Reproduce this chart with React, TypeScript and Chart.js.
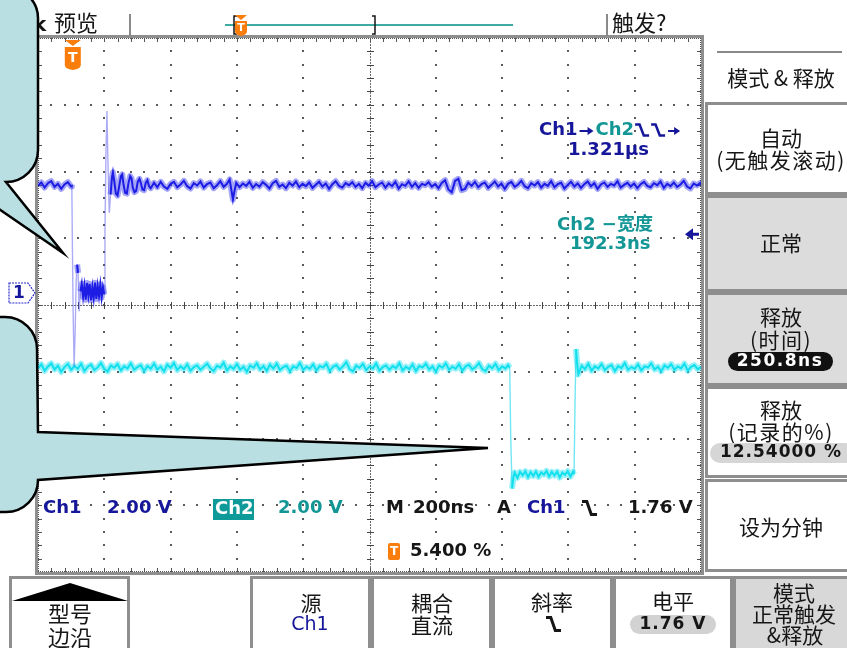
import { useEffect, useRef } from 'react';
import { Chart, registerables } from 'chart.js';

Chart.register(...registerables);

// Time base: 200 ns/div over 10 divisions; 8 vertical divisions, both channels at 2.00 V/div.
const TIME_PER_DIV_NS = 200;
const H_DIVS = 10;
const V_DIVS = 8;
const CH1_VOLTS_PER_DIV = 2;
const CH2_VOLTS_PER_DIV = 2;
// Ground reference of each channel, in divisions above the screen centre.
const CH1_GROUND_DIV = 0.18;
const CH2_GROUND_DIV = -2.56;
const TRIGGER_LEVEL_V = 1.76;
const TRIGGER_TIME_NS = 105;

// Ch1 acquisition: [time ns, volts]
const ch1Trace: [number, number][] = [
  [0, 3.22], [10, 3.31], [20, 3.16], [30, 3.29], [40, 3.35], [50, 3.18], [60, 3.27], [70, 3.12], [80, 3.25], [90, 3.32], [100, 3.19],
  [102, 3.24], [104, 1.2], [106, -0.6], [109, -2.2], [112, -1.2], [115, 0.3], [118, 0.85], [121, 0.6], [124, -0.55],
  [128, 0.05], [132, 0.28], [136, -0.12], [140, 0.22], [144, -0.2], [148, 0.3], [152, -0.08], [156, 0.27], [160, -0.22],
  [164, 0.18], [168, -0.16], [172, 0.31], [176, -0.18], [180, 0.22], [184, -0.1], [188, 0.26], [192, -0.14], [196, 0.18], [200, -0.04],
  [202, 1.8], [205, 4.2], [208, 5.45], [211, 3.9], [215, 2.4], [219, 2.95], [223, 3.45], [226, 3.62], [230, 3.35], [235, 2.98],
  [240, 2.92], [245, 3.2], [250, 3.5], [254, 3.55], [258, 3.25], [263, 3.0], [268, 2.98], [273, 3.3], [278, 3.5], [282, 3.44],
  [286, 3.15], [291, 3.02], [296, 3.06], [301, 3.34], [306, 3.42], [310, 3.3], [315, 3.1], [320, 3.08], [325, 3.3], [330, 3.38],
  [335, 3.2], [340, 3.14], [350, 3.3], [360, 3.17], [370, 3.33], [380, 3.19], [390, 3.12], [400, 3.27], [410, 3.33], [420, 3.17],
  [430, 3.25], [440, 3.36], [450, 3.2], [460, 3.13], [470, 3.29], [480, 3.22], [490, 3.34], [500, 3.16], [510, 3.26], [520, 3.31],
  [530, 3.14], [540, 3.23], [550, 3.35], [560, 3.18], [570, 3.27], [578, 3.4], [584, 3.05], [588, 2.8], [592, 3.02], [598, 3.3],
  [608, 3.17], [618, 3.28], [628, 3.21], [638, 3.33], [648, 3.15], [658, 3.26], [668, 3.19], [678, 3.32], [688, 3.24], [698, 3.13],
  [708, 3.29], [718, 3.36], [728, 3.18], [738, 3.25], [748, 3.14], [758, 3.3], [768, 3.22], [778, 3.34], [788, 3.17], [798, 3.27],
  [808, 3.2], [818, 3.31], [828, 3.15], [838, 3.24], [848, 3.33], [858, 3.19], [868, 3.28], [878, 3.12], [888, 3.26], [898, 3.35],
  [908, 3.21], [918, 3.16], [928, 3.29], [938, 3.23], [948, 3.32], [958, 3.18], [968, 3.27], [978, 3.14], [988, 3.3], [998, 3.22],
  [1008, 3.35], [1018, 3.17], [1028, 3.25], [1038, 3.31], [1048, 3.16], [1058, 3.28], [1068, 3.2], [1078, 3.33], [1088, 3.13], [1098, 3.26],
  [1108, 3.21], [1118, 3.34], [1128, 3.18], [1138, 3.29], [1148, 3.15], [1158, 3.27], [1168, 3.23], [1178, 3.32], [1188, 3.19], [1198, 3.26],
  [1208, 3.14], [1218, 3.3], [1228, 3.38], [1238, 3.1], [1248, 3.02], [1258, 3.36], [1268, 3.42], [1278, 3.08], [1288, 3.12], [1298, 3.3],
  [1308, 3.21], [1318, 3.33], [1328, 3.17], [1338, 3.26], [1348, 3.31], [1358, 3.15], [1368, 3.24], [1378, 3.34], [1388, 3.19], [1398, 3.28],
  [1408, 3.12], [1418, 3.27], [1428, 3.33], [1438, 3.18], [1448, 3.25], [1458, 3.36], [1468, 3.2], [1478, 3.14], [1488, 3.29], [1498, 3.22],
  [1508, 3.32], [1518, 3.16], [1528, 3.27], [1538, 3.21], [1548, 3.35], [1558, 3.17], [1568, 3.26], [1578, 3.3], [1588, 3.13], [1598, 3.24],
  [1608, 3.33], [1618, 3.19], [1628, 3.28], [1638, 3.15], [1648, 3.26], [1658, 3.34], [1668, 3.2], [1678, 3.29], [1688, 3.12], [1698, 3.25],
  [1708, 3.31], [1718, 3.18], [1728, 3.27], [1738, 3.22], [1748, 3.35], [1758, 3.16], [1768, 3.24], [1778, 3.3], [1788, 3.19], [1798, 3.28],
  [1808, 3.14], [1818, 3.26], [1828, 3.33], [1838, 3.21], [1848, 3.17], [1858, 3.29], [1868, 3.23], [1878, 3.34], [1888, 3.15], [1898, 3.27],
  [1908, 3.2], [1918, 3.31], [1928, 3.18], [1938, 3.25], [1948, 3.36], [1958, 3.19], [1968, 3.13], [1978, 3.28], [1988, 3.22], [1998, 3.3], [2000, 3.24],
];

// Ch2 acquisition: [time ns, volts]
const ch2Trace: [number, number][] = [
  [0, 3.22], [10, 3.34], [20, 3.15], [30, 3.28], [40, 3.37], [50, 3.19], [60, 3.3], [70, 3.12], [80, 3.26], [90, 3.35],
  [100, 3.18], [110, 3.29], [120, 3.21], [130, 3.36], [140, 3.14], [150, 3.27], [160, 3.33], [170, 3.17], [180, 3.25], [190, 3.38],
  [200, 3.2], [210, 3.13], [220, 3.31], [230, 3.24], [240, 3.35], [250, 3.16], [260, 3.28], [270, 3.22], [280, 3.37], [290, 3.18],
  [300, 3.26], [310, 3.32], [320, 3.14], [330, 3.29], [340, 3.21], [350, 3.36], [360, 3.19], [370, 3.27], [380, 3.13], [390, 3.33],
  [400, 3.24], [410, 3.38], [420, 3.17], [430, 3.28], [440, 3.2], [450, 3.34], [460, 3.15], [470, 3.26], [480, 3.31], [490, 3.18],
  [500, 3.27], [510, 3.36], [520, 3.22], [530, 3.14], [540, 3.3], [550, 3.25], [560, 3.39], [570, 3.16], [580, 3.28], [590, 3.21],
  [600, 3.35], [610, 3.18], [620, 3.27], [630, 3.12], [640, 3.31], [650, 3.24], [660, 3.37], [670, 3.19], [680, 3.29], [690, 3.15],
  [700, 3.33], [710, 3.22], [720, 3.36], [730, 3.17], [740, 3.26], [750, 3.3], [760, 3.13], [770, 3.28], [780, 3.23], [790, 3.38],
  [800, 3.18], [810, 3.27], [820, 3.21], [830, 3.34], [840, 3.16], [850, 3.29], [860, 3.25], [870, 3.36], [880, 3.14], [890, 3.27],
  [900, 3.32], [910, 3.19], [920, 3.28], [930, 3.41], [940, 3.2], [950, 3.13], [960, 3.3], [970, 3.24], [980, 3.35], [990, 3.17],
  [1000, 3.28], [1010, 3.22], [1020, 3.37], [1030, 3.15], [1040, 3.26], [1050, 3.31], [1060, 3.18], [1070, 3.29], [1080, 3.23], [1090, 3.38],
  [1100, 3.16], [1110, 3.27], [1120, 3.2], [1130, 3.34], [1140, 3.14], [1150, 3.29], [1160, 3.25], [1170, 3.36], [1180, 3.19], [1190, 3.28],
  [1200, 3.12], [1210, 3.31], [1220, 3.24], [1230, 3.37], [1240, 3.18], [1250, 3.27], [1260, 3.21], [1270, 3.35], [1280, 3.15], [1290, 3.28],
  [1300, 3.33], [1310, 3.19], [1320, 3.26], [1330, 3.38], [1340, 3.2], [1350, 3.14], [1360, 3.3], [1370, 3.23], [1380, 3.36], [1390, 3.17],
  [1400, 3.28], [1410, 3.22], [1418, 3.32], [1423, 3.24],
  [1426, 1.2], [1430, -0.38], [1434, -0.05], [1438, 0.1], [1446, -0.06], [1454, 0.12], [1462, 0.02], [1470, 0.14], [1478, -0.04],
  [1486, 0.11], [1494, 0.0], [1502, 0.13], [1510, -0.03], [1518, 0.1], [1526, 0.04], [1534, 0.15], [1542, -0.02], [1550, 0.12],
  [1558, 0.01], [1566, 0.13], [1574, -0.05], [1582, 0.1], [1590, 0.03], [1598, 0.14], [1606, -0.02], [1614, 0.12], [1617, 0.05],
  [1620, 2.2], [1623, 3.8], [1626, 3.4], [1630, 3.05], [1640, 3.3], [1650, 3.2], [1660, 3.36], [1670, 3.15], [1680, 3.28],
  [1690, 3.22], [1700, 3.35], [1710, 3.17], [1720, 3.27], [1730, 3.32], [1740, 3.14], [1750, 3.29], [1760, 3.23], [1770, 3.38],
  [1780, 3.18], [1790, 3.26], [1800, 3.21], [1810, 3.34], [1820, 3.16], [1830, 3.28], [1840, 3.25], [1850, 3.37], [1860, 3.19],
  [1870, 3.27], [1880, 3.13], [1890, 3.31], [1900, 3.24], [1910, 3.35], [1920, 3.18], [1930, 3.28], [1940, 3.22], [1950, 3.36],
  [1960, 3.15], [1970, 3.27], [1980, 3.32], [1990, 3.2], [2000, 3.26],
];

// Readouts and menu labels
const ch1Scale = '2.00 V';
const ch2Scale = '2.00 V';
const timeBase = '200ns';
const triggerReadout = '1.76 V';
const triggerPosition = '5.400 %';
const delayReadout = '1.321μs';
const widthLabel = 'Ch2 −宽度';
const widthReadout = '192.3ns';
const topBarPreview = '预览';
const topBarStatus = '触发?';
const sideMenuTitle = '模式 & 释放';
const sideMenuLines = [['自动', '(无触发滚动)'], ['正常'], ['释放', '(时间)'], ['释放', '(记录的%)'], ['设为分钟']];
const holdoffTime = '250.8ns';
const holdoffPercent = '12.54000 %';
const bottomMenuLines = [['型号', '边沿'], ['源', 'Ch1'], ['耦合', '直流'], ['斜率', ''], ['电平', '1.76 V'], ['模式', '正常触发', '&释放']];

const NAVY = '#16169a';
const TEAL = '#129696';
const INK = '#161616';
const ORANGE = '#fb7d0c';
const CH1_COLOR = '#1c1ce4';
const CH1_HAZE = 'rgba(40,40,235,0.42)';
const CH1_EDGE = 'rgba(70,70,235,0.45)';
const CH2_COLOR = '#10e0ee';
const CH2_HAZE = 'rgba(20,225,240,0.45)';
const CH2_EDGE = 'rgba(20,215,235,0.6)';
const BUBBLE = '#b9dfe2';
const FRAME = '#8e8e8e';
const READ = 'bold 18px "DejaVu Sans", "Noto Sans CJK SC", sans-serif';
const CJK = '21px "Noto Sans CJK SC", sans-serif';

type Ctx = CanvasRenderingContext2D;

function text(ctx: Ctx, s: string, x: number, y: number, font: string, color: string, align: CanvasTextAlign = 'left', spacing = 0) {
  ctx.font = font;
  ctx.fillStyle = color;
  ctx.textAlign = align;
  ctx.textBaseline = 'middle';
  (ctx as any).letterSpacing = spacing + 'px';
  ctx.fillText(s, x, y);
  const w = ctx.measureText(s).width;
  (ctx as any).letterSpacing = '0px';
  return w;
}

function fallingEdge(ctx: Ctx, x: number, y: number, w: number, h: number, color: string, lw = 2.5) {
  ctx.beginPath();
  ctx.moveTo(x, y - h / 2);
  ctx.lineTo(x + w * 0.32, y - h / 2);
  ctx.lineTo(x + w * 0.62, y + h / 2);
  ctx.lineTo(x + w, y + h / 2);
  ctx.strokeStyle = color;
  ctx.lineWidth = lw;
  ctx.lineJoin = 'miter';
  ctx.stroke();
}

function arrowRight(ctx: Ctx, x: number, y: number, len: number, color: string) {
  ctx.strokeStyle = color;
  ctx.fillStyle = color;
  ctx.lineWidth = 2;
  ctx.beginPath();
  ctx.moveTo(x, y);
  ctx.lineTo(x + len - 4, y);
  ctx.stroke();
  ctx.beginPath();
  ctx.moveTo(x + len, y);
  ctx.lineTo(x + len - 6, y - 4);
  ctx.lineTo(x + len - 6, y + 4);
  ctx.closePath();
  ctx.fill();
}

function pill(ctx: Ctx, x: number, y: number, w: number, h: number, fill: string) {
  ctx.beginPath();
  ctx.roundRect(x, y, w, h, h / 2);
  ctx.fillStyle = fill;
  ctx.fill();
}

function triggerBadge(ctx: Ctx, cx: number, top: number, w: number, tri: number, h: number, fontPx: number) {
  ctx.fillStyle = ORANGE;
  ctx.beginPath();
  ctx.moveTo(cx - w / 2, top);
  ctx.lineTo(cx + w / 2, top);
  ctx.lineTo(cx, top + tri);
  ctx.closePath();
  ctx.fill();
  const by = top + tri + 1;
  ctx.beginPath();
  ctx.moveTo(cx - w / 2, by);
  ctx.lineTo(cx + w / 2, by);
  ctx.lineTo(cx + w / 2, by + h - 4);
  ctx.quadraticCurveTo(cx + w / 2, by + h, cx, by + h + 1);
  ctx.quadraticCurveTo(cx - w / 2, by + h, cx - w / 2, by + h - 4);
  ctx.closePath();
  ctx.fill();
  text(ctx, 'T', cx, by + h / 2 + 0.5, `bold ${fontPx}px "DejaVu Sans"`, '#fff', 'center');
}

function drawGraticule(ctx: Ctx, a: { left: number; right: number; top: number; bottom: number }) {
  const L = a.left, R = a.right, T = a.top, B = a.bottom;
  const dx = (R - L) / H_DIVS, dy = (B - T) / V_DIVS;
  const cx = Math.round(L + (dx * H_DIVS) / 2), cy = Math.round(T + (dy * V_DIVS) / 2);
  ctx.save();
  ctx.fillStyle = '#5a5a5a';
  for (let i = 1; i < H_DIVS; i++) {
    if (i * 2 === H_DIVS) continue;
    const x = Math.round(L + i * dx);
    for (let k = 1; k < V_DIVS * 5; k++) ctx.fillRect(x - 1, Math.round(T + (k * dy) / 5) - 1, 2, 2);
  }
  for (let j = 1; j < V_DIVS; j++) {
    if (j * 2 === V_DIVS) continue;
    const y = Math.round(T + j * dy);
    for (let k = 1; k < H_DIVS * 5; k++) ctx.fillRect(Math.round(L + (k * dx) / 5) - 1, y - 1, 2, 2);
  }
  // centre cross
  ctx.fillStyle = '#6a6a6a';
  for (let x = L; x < R; x += 3) ctx.fillRect(x, cy, 2, 1);
  for (let y = T; y < B; y += 3) ctx.fillRect(cx, y, 1, 2);
  ctx.fillStyle = '#444';
  for (let k = 1; k < H_DIVS * 5; k++) ctx.fillRect(Math.round(L + (k * dx) / 5), cy - 3, 1, 7);
  for (let k = 1; k < V_DIVS * 5; k++) ctx.fillRect(cx - 3, Math.round(T + (k * dy) / 5), 7, 1);
  // frame with minor ticks
  ctx.fillStyle = FRAME;
  ctx.fillRect(L - 3, T - 3, R - L + 6, 3);
  ctx.fillRect(L - 3, B, R - L + 6, 3);
  ctx.fillRect(L - 3, T - 3, 3, B - T + 6);
  ctx.fillRect(R, T - 3, 3, B - T + 6);
  ctx.fillStyle = '#555';
  for (let x = L; x < R; x += 2) { ctx.fillRect(x, T, 1, 1); ctx.fillRect(x, B - 1, 1, 1); }
  for (let y = T; y < B; y += 2) { ctx.fillRect(L, y, 1, 1); ctx.fillRect(R - 1, y, 1, 1); }
  for (let k = 1; k < H_DIVS * 5; k++) {
    const x = Math.round(L + (k * dx) / 5);
    ctx.fillRect(x, T, 1, 4);
    ctx.fillRect(x, B - 4, 1, 4);
  }
  for (let k = 1; k < V_DIVS * 5; k++) {
    const y = Math.round(T + (k * dy) / 5);
    ctx.fillRect(L, y, 4, 1);
    ctx.fillRect(R - 4, y, 4, 1);
  }
  ctx.restore();
}

function drawReadouts(chart: any) {
  const ctx: Ctx = chart.ctx;
  const x = chart.scales.x, y1 = chart.scales.y1;
  ctx.save();
  // measurement: Ch1 -> Ch2 delay
  let px = 539;
  px += text(ctx, 'Ch1', px, 130, READ, NAVY);
  arrowRight(ctx, px + 2, 131, 14, NAVY);
  px += 18;
  px += text(ctx, 'Ch2', px, 130, READ, TEAL);
  fallingEdge(ctx, px + 1, 130, 14, 11, NAVY);
  fallingEdge(ctx, px + 17, 130, 14, 11, NAVY);
  arrowRight(ctx, px + 34, 131, 12, NAVY);
  text(ctx, delayReadout, 568, 150, READ, NAVY);
  // measurement: Ch2 negative width
  text(ctx, widthLabel, 557, 225, READ, TEAL);
  text(ctx, widthReadout, 570, 244, READ, TEAL);

  // channel / timebase readout
  text(ctx, 'Ch1', 43, 508, READ, NAVY);
  text(ctx, ch1Scale, 107, 508, READ, NAVY);
  ctx.fillStyle = '#0f9a9a';
  ctx.fillRect(213, 499, 41, 21);
  text(ctx, 'Ch2', 215, 509, READ, '#fff');
  text(ctx, ch2Scale, 278, 508, READ, TEAL);
  text(ctx, 'M', 386, 508, READ, INK);
  text(ctx, timeBase, 413, 508, READ, INK);
  text(ctx, 'A', 497, 508, READ, INK);
  text(ctx, 'Ch1', 527, 508, READ, NAVY);
  fallingEdge(ctx, 582, 508, 15, 13, INK, 3);
  text(ctx, triggerReadout, 628, 508, READ, INK);
  ctx.fillStyle = ORANGE;
  ctx.beginPath();
  ctx.roundRect(388, 543, 12, 17, 2);
  ctx.fill();
  text(ctx, 'T', 394, 552, 'bold 12px "DejaVu Sans"', '#fff', 'center');
  text(ctx, triggerPosition, 410, 551, READ, INK);

  // trigger position marker
  const tx = x.getPixelForValue(TRIGGER_TIME_NS);
  triggerBadge(ctx, tx, 40, 16, 6, 22, 14);

  // trigger level arrow on the right edge
  const ty = y1.getPixelForValue(TRIGGER_LEVEL_V);
  ctx.fillStyle = NAVY;
  ctx.beginPath();
  ctx.moveTo(685, ty);
  ctx.lineTo(693, ty - 6);
  ctx.lineTo(693, ty + 6);
  ctx.closePath();
  ctx.fill();
  ctx.fillRect(692, ty - 1.5, 7, 3);

  // Ch1 ground marker
  const gy = y1.getPixelForValue(0);
  ctx.beginPath();
  ctx.moveTo(9, gy - 10);
  ctx.lineTo(28, gy - 10);
  ctx.lineTo(35, gy);
  ctx.lineTo(28, gy + 10);
  ctx.lineTo(9, gy + 10);
  ctx.closePath();
  ctx.fillStyle = '#fff';
  ctx.fill();
  ctx.setLineDash([2, 1]);
  ctx.strokeStyle = '#2a2ac8';
  ctx.lineWidth = 1.2;
  ctx.stroke();
  ctx.setLineDash([]);
  text(ctx, '1', 19, gy + 1, 'bold 17px "DejaVu Sans"', NAVY, 'center');
  ctx.restore();
}

function drawTopBar(ctx: Ctx) {
  ctx.save();
  text(ctx, 'k', 33, 26, 'bold 20px "DejaVu Sans"', INK);
  text(ctx, topBarPreview, 54, 23, '22px "Noto Sans CJK SC"', INK);
  ctx.fillStyle = '#8a8a8a';
  ctx.fillRect(129, 14, 2, 22);
  ctx.fillRect(606, 14, 2, 22);
  text(ctx, topBarStatus, 612, 23, '22px "Noto Sans CJK SC"', INK);
  // record view
  ctx.fillStyle = '#3eaaa2';
  ctx.fillRect(225, 24, 288, 2);
  ctx.strokeStyle = INK;
  ctx.lineWidth = 1.5;
  ctx.beginPath();
  ctx.moveTo(237, 16); ctx.lineTo(234, 16); ctx.lineTo(234, 34); ctx.lineTo(237, 34);
  ctx.moveTo(372, 16); ctx.lineTo(375, 16); ctx.lineTo(375, 34); ctx.lineTo(372, 34);
  ctx.stroke();
  triggerBadge(ctx, 241, 15, 12, 5, 14, 11);
  ctx.restore();
}

function drawSideMenu(ctx: Ctx) {
  ctx.save();
  ctx.fillStyle = '#888';
  ctx.fillRect(717, 51, 125, 2);
  text(ctx, sideMenuTitle, 781, 78, CJK, INK, 'center');
  const boxes = [[103, 193], [196, 290], [293, 384], [387, 476], [480, 570]];
  const shaded = [false, true, true, false, false];
  boxes.forEach(([t, b], i) => {
    ctx.fillStyle = shaded[i] ? '#dcdcdc' : '#fff';
    ctx.fillRect(706, t, 145, b - t);
    ctx.strokeStyle = FRAME;
    ctx.lineWidth = 3;
    ctx.strokeRect(706.5, t + 0.5, 145, b - t);
  });
  const lineY = [[138, 160], [243], [317, 340], [410, 432], [527]];
  sideMenuLines.forEach((lines, i) => {
    lines.forEach((s, k) => text(ctx, s, 781, lineY[i][k], CJK, INK, 'center', s.startsWith('(') ? 1.5 : 0));
  });
  pill(ctx, 728, 352, 105, 19, '#111');
  text(ctx, holdoffTime, 780, 362, 'bold 17px "DejaVu Sans"', '#fff', 'center', 1.5);
  pill(ctx, 710, 443, 145, 20, '#d6d6d6');
  text(ctx, holdoffPercent, 781, 453, 'bold 17px "DejaVu Sans"', INK, 'center', 1);
  ctx.restore();
}

function drawBottomMenu(ctx: Ctx) {
  ctx.save();
  const boxes = [[10, 128], [251, 369], [372, 490], [493, 611], [614, 731], [734, 852]];
  boxes.forEach(([l, r], i) => {
    ctx.fillStyle = i === 5 ? '#d8d8d8' : '#fff';
    ctx.fillRect(l, 577, r - l, 75);
    ctx.strokeStyle = FRAME;
    ctx.lineWidth = 3;
    ctx.strokeRect(l + 0.5, 577.5, r - l, 75);
  });
  // menu-up marker
  ctx.fillStyle = '#000';
  ctx.beginPath();
  ctx.moveTo(12, 601);
  ctx.lineTo(70, 583);
  ctx.lineTo(128, 601);
  ctx.closePath();
  ctx.fill();
  const [m0, m1, m2, m3, m4, m5] = bottomMenuLines;
  text(ctx, m0[0], 70, 614, '22px "Noto Sans CJK SC"', INK, 'center');
  text(ctx, m0[1], 70, 638, '22px "Noto Sans CJK SC"', INK, 'center');
  text(ctx, m1[0], 311, 603, CJK, INK, 'center');
  text(ctx, m1[1], 310, 625, '19px "DejaVu Sans"', NAVY, 'center');
  text(ctx, m2[0], 432, 603, CJK, INK, 'center');
  text(ctx, m2[1], 432, 625, CJK, INK, 'center');
  text(ctx, m3[0], 552, 602, CJK, INK, 'center');
  fallingEdge(ctx, 546, 624, 15, 13, INK, 3);
  text(ctx, m4[0], 673, 601, CJK, INK, 'center');
  pill(ctx, 630, 615, 86, 19, '#d2d2d2');
  text(ctx, m4[1], 673, 625, 'bold 17px "DejaVu Sans"', INK, 'center', 1);
  text(ctx, m5[0], 794, 593, CJK, INK, 'center');
  text(ctx, m5[1], 794, 614, CJK, INK, 'center');
  text(ctx, m5[2], 795, 635, CJK, INK, 'center');
  ctx.restore();
}

function drawCallouts(ctx: Ctx) {
  ctx.save();
  ctx.fillStyle = BUBBLE;
  ctx.strokeStyle = '#000';
  ctx.lineWidth = 2.5;
  ctx.lineJoin = 'miter';
  // upper callout, pointing at the Ch1 pulse
  ctx.beginPath();
  ctx.moveTo(-10, -12);
  ctx.lineTo(8, -12);
  ctx.arc(8, 18, 30, -Math.PI / 2, 0);
  ctx.lineTo(38, 150);
  ctx.arc(6, 150, 32, 0, Math.PI / 2);
  ctx.lineTo(63, 253);
  ctx.lineTo(-10, 203);
  ctx.closePath();
  ctx.fill();
  ctx.stroke();
  // lower callout, pointing at the Ch2 pulse
  ctx.beginPath();
  ctx.moveTo(-10, 317);
  ctx.lineTo(5, 317);
  ctx.arc(5, 349, 32, -Math.PI / 2, 0);
  ctx.lineTo(38, 432);
  ctx.lineTo(488, 448);
  ctx.lineTo(38, 480);
  ctx.arc(6, 480, 32, 0, Math.PI / 2);
  ctx.lineTo(-10, 512);
  ctx.closePath();
  ctx.fill();
  ctx.stroke();
  ctx.restore();
}

const scopeScreen = {
  id: 'scopeScreen',
  beforeDraw(chart: any) {
    const ctx: Ctx = chart.ctx;
    ctx.save();
    ctx.fillStyle = '#fff';
    ctx.fillRect(0, 0, chart.width, chart.height);
    ctx.restore();
  },
  beforeDatasetsDraw(chart: any) {
    drawGraticule(chart.ctx, chart.chartArea);
  },
  afterDatasetsDraw(chart: any) {
    const ctx: Ctx = chart.ctx;
    drawReadouts(chart);
    drawTopBar(ctx);
    drawSideMenu(ctx);
    drawBottomMenu(ctx);
    drawCallouts(ctx);
  },
};

const steep = (c: any) => Math.abs(c.p1.y - c.p0.y) > 18;

// A trace is drawn as a sharp core over a wider translucent band (the display's persistence haze).
function traceDatasets(label: string, trace: [number, number][], axis: string, core: string, haze: string, edge: string) {
  const data = trace.map(([t, v]) => ({ x: t, y: v }));
  return [
    {
      label,
      data,
      yAxisID: axis,
      borderColor: core,
      borderWidth: 2,
      pointRadius: 0,
      tension: 0,
      segment: {
        borderColor: (c: any) => (steep(c) ? edge : undefined),
        borderWidth: (c: any) => (steep(c) ? 1.4 : undefined),
      },
    },
    {
      label: label + ' haze',
      data,
      yAxisID: axis,
      borderColor: haze,
      borderWidth: 6,
      borderJoinStyle: 'round',
      pointRadius: 0,
      tension: 0,
      segment: {
        borderColor: (c: any) => (steep(c) ? 'rgba(0,0,0,0)' : undefined),
      },
    },
  ];
}

export default function App() {
  const ref = useRef<HTMLCanvasElement>(null);
  useEffect(() => {
    const ch1Half = (V_DIVS / 2) * CH1_VOLTS_PER_DIV;
    const ch2Half = (V_DIVS / 2) * CH2_VOLTS_PER_DIV;
    const [ch1Core, ch1Haze] = traceDatasets('Ch1', ch1Trace, 'y1', CH1_COLOR, CH1_HAZE, CH1_EDGE);
    const [ch2Core, ch2Haze] = traceDatasets('Ch2', ch2Trace, 'y2', CH2_COLOR, CH2_HAZE, CH2_EDGE);
    const chart = new Chart(ref.current!, {
      type: 'line',
      // earlier datasets are painted last, so the cores sit above the haze bands
      data: { datasets: [ch1Core, ch2Core, ch1Haze, ch2Haze] as any },
      options: {
        animation: false,
        responsive: false,
        devicePixelRatio: 1,
        events: [],
        layout: { padding: { left: 38, top: 38, right: 146, bottom: 76 } },
        plugins: { legend: { display: false }, tooltip: { enabled: false } },
        scales: {
          x: { type: 'linear', min: 0, max: TIME_PER_DIV_NS * H_DIVS, display: false },
          y1: {
            type: 'linear',
            min: -ch1Half - CH1_GROUND_DIV * CH1_VOLTS_PER_DIV,
            max: ch1Half - CH1_GROUND_DIV * CH1_VOLTS_PER_DIV,
            display: false,
          },
          y2: {
            type: 'linear',
            min: -ch2Half - CH2_GROUND_DIV * CH2_VOLTS_PER_DIV,
            max: ch2Half - CH2_GROUND_DIV * CH2_VOLTS_PER_DIV,
            display: false,
          },
        },
      } as any,
      plugins: [scopeScreen],
    });
    return () => chart.destroy();
  }, []);
  return (
    <div style={{ position: 'fixed', left: 0, top: 0, width: 847, height: 648, background: '#fff' }}>
      <canvas ref={ref} width={847} height={648} style={{ display: 'block', width: 847, height: 648 }} />
    </div>
  );
}
